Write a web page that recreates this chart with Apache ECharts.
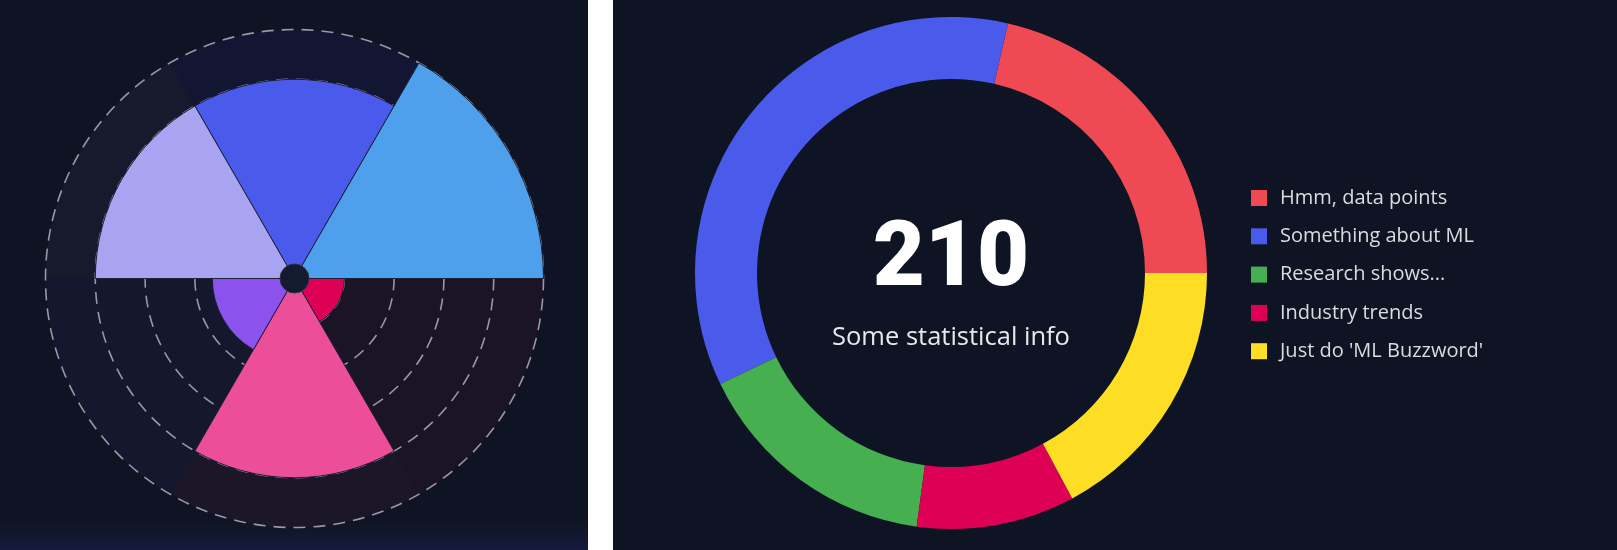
<!DOCTYPE html>
<html>
<head>
<meta charset="utf-8">
<script src="https://cdn.jsdelivr.net/npm/echarts@6/dist/echarts.min.js"></script>
<style>
  html, body { margin: 0; padding: 0; background: #ffffff; width: 1617px; height: 550px; overflow: hidden; }
  #left { position: absolute; left: 0; top: 0; width: 588px; height: 550px;
          background: linear-gradient(to bottom, #0f1425 0%, #0f1425 95%, #171b3e 100%); }
  #right { position: absolute; left: 613px; top: 0; width: 1004px; height: 550px; background: #0f1425; }
</style>
</head>
<body>
<div id="left"></div>
<div id="right"></div>
<script>
// ---- Left: polar area chart ----
const polarCategories = ['Segment A', 'Segment B', 'Segment C', 'Segment D', 'Segment E', 'Segment F'];
const polarValues = [80, 100, 20, 80, 33, 80];
const polarMax = [100, 100, 100, 100, 100, 100];
const polarColors = ['#4a5beb', '#4fa0ec', '#dd0055', '#ec4e99', '#8c52ee', '#a9a4f1'];
const polarBgColors = ['#131633', '#121a30', '#1a1426', '#1b1729', '#15172f', '#171a2c'];
const radiusTicks = { min: 0, max: 100, interval: 20 };

// ---- Right: doughnut chart ----
const donutLabels = ['Hmm, data points', 'Something about ML', 'Research shows...', 'Industry trends', "Just do 'ML Buzzword'"];
const donutValues = [45, 75, 33, 21, 36];
const donutColors = ['#ef4a53', '#4a5beb', '#46af4f', '#dd0055', '#fedd25'];
const centerValue = '210';
const centerCaption = 'Some statistical info';

const leftChart = echarts.init(document.getElementById('left'), null, { renderer: 'canvas' });
leftChart.setOption({
  animation: false,
  backgroundColor: 'transparent',
  polar: { center: [294.5, 278.5], radius: 249 },
  angleAxis: {
    type: 'category',
    data: polarCategories,
    startAngle: 120,
    clockwise: true,
    axisLine: { show: false },
    axisTick: { show: false },
    axisLabel: { show: false },
    splitLine: { show: false },
    splitArea: { show: false }
  },
  radiusAxis: {
    type: 'value',
    min: radiusTicks.min,
    max: radiusTicks.max,
    interval: radiusTicks.interval,
    z: 1,
    axisLine: { show: false },
    axisTick: { show: false },
    axisLabel: { show: false },
    splitLine: { show: true, lineStyle: { color: '#9a97a6', width: 1.6, type: [12, 8] } }
  },
  series: [
    {
      type: 'bar',
      coordinateSystem: 'polar',
      z: 0,
      silent: true,
      barCategoryGap: '0%',
      data: polarMax.map((v, i) => ({ value: v, itemStyle: { color: polarBgColors[i] } }))
    },
    {
      type: 'bar',
      coordinateSystem: 'polar',
      z: 3,
      silent: true,
      barGap: '-100%',
      barCategoryGap: '0%',
      itemStyle: { borderColor: '#1b2036', borderWidth: 1 },
      data: polarValues.map((v, i) => ({ value: v, itemStyle: { color: polarColors[i] } }))
    },
    {
      type: 'pie',
      z: 5,
      silent: true,
      center: [294.5, 278.5],
      radius: [0, 14.5],
      label: { show: false },
      labelLine: { show: false },
      itemStyle: { color: '#121b2f', borderColor: '#2a3048', borderWidth: 1 },
      data: [1]
    }
  ]
});

const rightChart = echarts.init(document.getElementById('right'), null, { renderer: 'canvas' });
rightChart.setOption({
  animation: false,
  backgroundColor: 'transparent',
  legend: {
    orient: 'vertical',
    left: 633,
    top: 183,
    icon: 'rect',
    itemWidth: 16,
    itemHeight: 16,
    itemGap: 18.3,
    selectedMode: false,
    textStyle: { color: '#dcdcdc', fontSize: 20, fontFamily: 'Open Sans', padding: [0, 0, 0, 8] },
    data: donutLabels
  },
  graphic: [
    {
      type: 'text', silent: true,
      x: 338, y: 262,
      style: { text: centerValue, align: 'center', verticalAlign: 'middle',
               fill: '#ffffff', font: '900 90px Roboto' }
    },
    {
      type: 'text', silent: true,
      x: 338, y: 338,
      style: { text: centerCaption, align: 'center', verticalAlign: 'middle',
               fill: '#e8e8e8', font: '25.5px "Open Sans"' }
    }
  ],
  series: [
    {
      type: 'pie',
      center: [338, 273],
      radius: [194, 256],
      startAngle: 0,
      clockwise: false,
      silent: true,
      label: { show: false },
      labelLine: { show: false },
      data: donutLabels.map((n, i) => ({ name: n, value: donutValues[i], itemStyle: { color: donutColors[i] } }))
    }
  ]
});
</script>
</body>
</html>
